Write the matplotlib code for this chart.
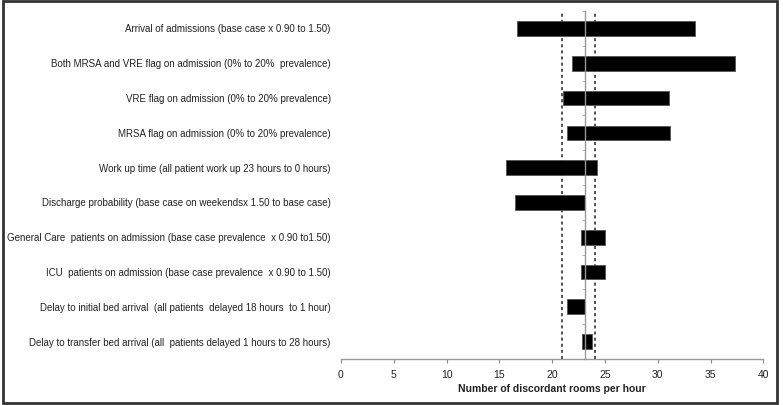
import matplotlib
matplotlib.use("Agg")
import matplotlib.pyplot as plt
from matplotlib.patches import Rectangle

categories = [
    "Arrival of admissions (base case x 0.90 to 1.50)",
    "Both MRSA and VRE flag on admission (0% to 20%  prevalence)",
    "VRE flag on admission (0% to 20% prevalence)",
    "MRSA flag on admission (0% to 20% prevalence)",
    "Work up time (all patient work up 23 hours to 0 hours)",
    "Discharge probability (base case on weekendsx 1.50 to base case)",
    "General Care  patients on admission (base case prevalence  x 0.90 to1.50)",
    "ICU  patients on admission (base case prevalence  x 0.90 to 1.50)",
    "Delay to initial bed arrival  (all patients  delayed 18 hours  to 1 hour)",
    "Delay to transfer bed arrival (all  patients delayed 1 hours to 28 hours)",
]
low_values = [16.7, 21.9, 21.0, 21.4, 15.6, 16.5, 22.7, 22.7, 21.4, 22.85]
high_values = [33.5, 37.3, 31.1, 31.15, 24.2, 23.13, 25.0, 25.0, 23.13, 23.8]
base_case = 23.13
ci_low = 20.9
ci_high = 24.05
xticks = [0, 5, 10, 15, 20, 25, 30, 35, 40]

plt.rcParams['font.family'] = ['Liberation Sans', 'DejaVu Sans']

fig = plt.figure(figsize=(7.83, 4.06), dpi=100)
ax = fig.add_axes([0.4355, 0.1133, 0.5394, 0.8571])

n = len(categories)
ypos = list(range(n))
widths = [h - l for l, h in zip(low_values, high_values)]
ax.barh(ypos, widths, left=low_values, height=0.42, color='black',
        edgecolor='#555555', linewidth=0.6, zorder=3)

ax.axvline(ci_low, color='#222222', linestyle=(0, (2, 2)), linewidth=1.1, zorder=2)
ax.axvline(ci_high, color='#222222', linestyle=(0, (2, 2)), linewidth=1.1, zorder=2)

ax.set_xlim(0, 40)
ax.set_ylim(n - 0.5, -0.5)
ax.set_xticks(xticks)
ax.set_xticklabels([str(t) for t in xticks], fontsize=7.5, color='#222222')
ax.tick_params(axis='x', length=3, color='#888888', width=0.8, pad=4)
ax.set_xlabel("Number of discordant rooms per hour", fontsize=7.5, fontweight='bold',
              color='#222222', labelpad=3)

# Category labels
ax.set_yticks([])
for y, lab in zip(ypos, categories):
    ax.text(-0.024, y, lab, transform=ax.get_yaxis_transform(), ha='right',
            va='center', fontsize=7, color='#222222')
ax.set_yticks([i + 0.5 for i in range(-1, n)], minor=True)

for s in ['top', 'right']:
    ax.spines[s].set_visible(False)
ax.spines['bottom'].set_color('#999999')
ax.spines['bottom'].set_linewidth(1.0)
ax.spines['left'].set_position(('data', base_case))
ax.spines['left'].set_color('#999999')
ax.spines['left'].set_linewidth(1.0)
ax.spines['left'].set_zorder(4)
ax.tick_params(axis='y', which='minor', length=2, color='#aaaaaa', width=0.6)

# Outer frame
fig.patches.append(Rectangle((0.004, 0.006), 0.988, 0.989, transform=fig.transFigure,
                             fill=False, edgecolor='#333333', linewidth=2.0))

fig.savefig("out.png", dpi=100)
